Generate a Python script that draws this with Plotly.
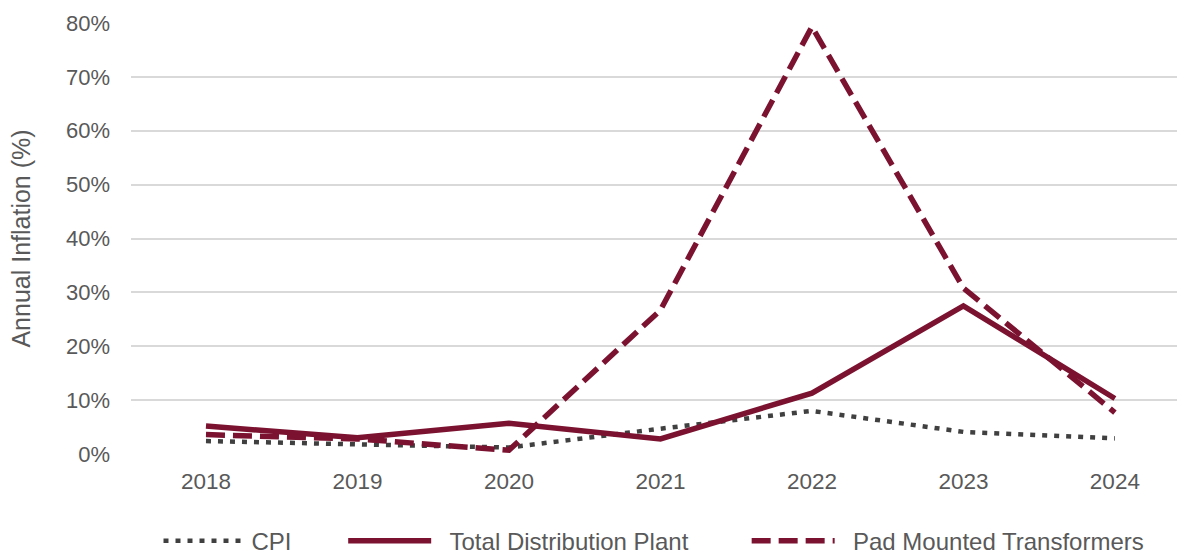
import plotly.graph_objects as go

years = ["2018", "2019", "2020", "2021", "2022", "2023", "2024"]
cpi = [2.4, 1.8, 1.2, 4.7, 8.0, 4.1, 2.9]
total_dist = [5.2, 3.0, 5.7, 2.8, 11.3, 27.5, 10.3]
pad_mounted = [3.6, 2.8, 0.7, 26.7, 79.3, 30.8, 7.7]
y_ticks = [0, 10, 20, 30, 40, 50, 60, 70, 80]
y_tick_labels = [f"{v}%" for v in y_ticks]
series_names = ["CPI", "Total Distribution Plant", "Pad Mounted Transformers"]

maroon = "#7B1230"
grey = "#404040"
txt = "#595959"
NB = "\u00a0"

fig = go.Figure()
fig.add_trace(go.Scatter(x=years, y=cpi, name=series_names[0] + NB * 7, mode="lines",
                         line=dict(color=grey, width=4.5, dash="5px,7px")))
fig.add_trace(go.Scatter(x=years, y=total_dist, name=NB * 2 + series_names[1] + NB * 8, mode="lines",
                         line=dict(color=maroon, width=5.5)))
fig.add_trace(go.Scatter(x=years, y=pad_mounted, name=NB * 2 + series_names[2], mode="lines",
                         line=dict(color=maroon, width=5.5, dash="19px,8px")))

fig.update_layout(
    width=1178, height=555,
    margin=dict(l=131, r=1, t=23, b=101, autoexpand=False),
    paper_bgcolor="white", plot_bgcolor="white",
    font=dict(family="Liberation Sans, Arial, sans-serif", color=txt, size=22),
    xaxis=dict(type="category", range=[-0.495, 6.41], showgrid=False, zeroline=False,
               showline=False, ticks="", ticklabelstandoff=11, automargin=False,
               tickfont=dict(size=22.5, color=txt)),
    yaxis=dict(range=[0, 80], tickvals=y_ticks, ticktext=y_tick_labels,
               showgrid=True, gridcolor="#d9d9d9", gridwidth=2, zeroline=False,
               showline=False, ticks="", ticklabelstandoff=20, automargin=False,
               tickfont=dict(size=22, color=txt),
               title=dict(text="Annual Inflation (%)", font=dict(size=25, color=txt),
                          standoff=28)),
    legend=dict(orientation="h", x=0.5, xanchor="center", yref="container", y=0.025,
                yanchor="middle", itemwidth=83, font=dict(size=24, color=txt),
                traceorder="normal"),
    showlegend=True,
)

fig.write_html("out.html")
